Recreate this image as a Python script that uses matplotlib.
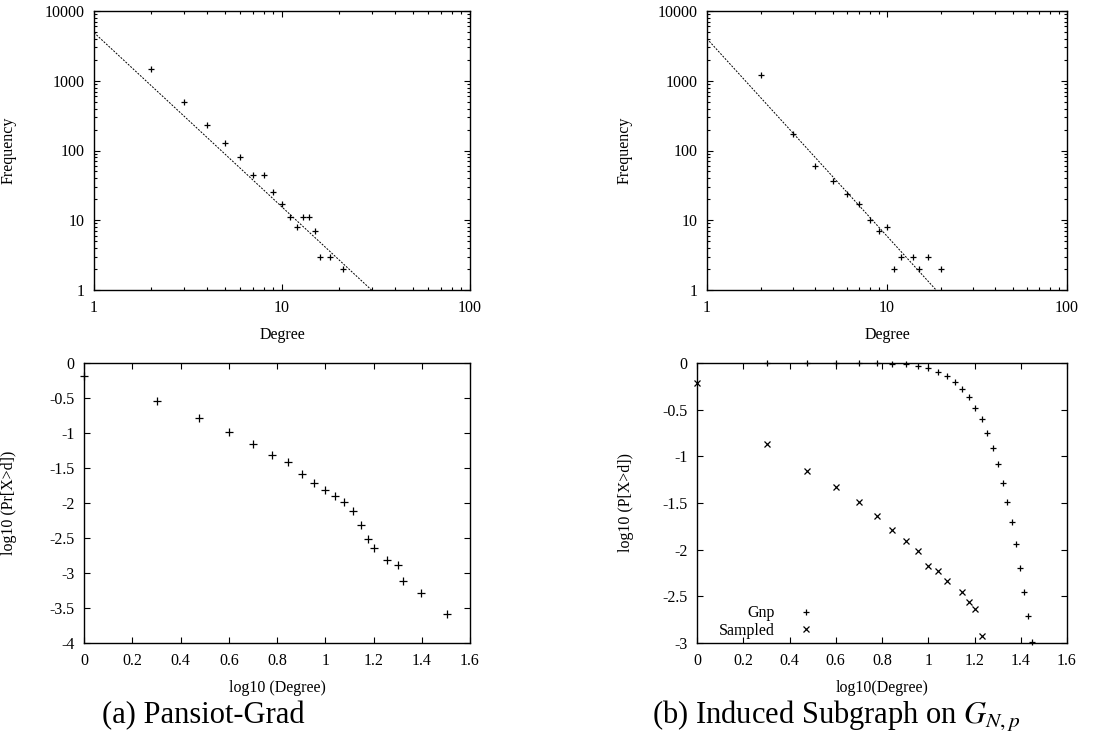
import numpy as np
import matplotlib
matplotlib.use("Agg")
import matplotlib.pyplot as plt
from matplotlib.ticker import FixedLocator, FuncFormatter, LogLocator, NullFormatter

plt.rcParams["font.family"] = ["Liberation Serif", "DejaVu Serif"]
plt.rcParams["mathtext.fontset"] = "stix"

# (a) Pansiot-Grad: degree histogram and power-law fit
pg_deg = [2, 3, 4, 5, 6, 7, 8, 9, 10, 11, 12, 13, 14, 15, 16, 18, 21]
pg_freq = [1450, 490, 233, 127, 82, 44, 44, 25, 17, 11, 8, 11, 11, 7, 3, 3, 2]
pg_fit = (4900, -2.5)  # a * d^b

# (b) induced subgraph on G(N,p): degree histogram and fit
ig_deg = [2, 3, 4, 5, 6, 7, 8, 9, 10, 11, 12, 14, 15, 17, 20]
ig_freq = [1200, 171, 59, 37, 24, 17, 10, 7, 8, 2, 3, 3, 2, 3, 2]
ig_fit = (4000, -2.83)

# complementary CDFs, log10 scale
pg_ccdf_deg = [1, 2, 3, 4, 5, 6, 7, 8, 9, 10, 11, 12, 13, 14, 15, 16, 18, 20, 21, 25, 32]
pg_ccdf = [-0.18, -0.54, -0.79, -0.99, -1.16, -1.31, -1.42, -1.59, -1.71, -1.81, -1.90,
           -1.98, -2.11, -2.31, -2.51, -2.64, -2.81, -2.89, -3.11, -3.29, -3.59]

gnp_deg = [2, 3, 4, 5, 6, 7, 8, 9, 10, 11, 12, 13, 14, 15, 16, 17, 18, 19, 20, 21, 22,
           23, 24, 25, 26, 27, 28]
gnp_ccdf = [0.0, 0.0, 0.0, 0.0, 0.0, -0.007, -0.014, -0.03, -0.054, -0.093, -0.139, -0.2,
            -0.275, -0.368, -0.479, -0.604, -0.746, -0.907, -1.086, -1.282, -1.489, -1.70,
            -1.939, -2.193, -2.454, -2.711, -2.99]

smp_deg = [1, 2, 3, 4, 5, 6, 7, 8, 9, 10, 11, 12, 14, 15, 16, 17]
smp_ccdf = [-0.211, -0.864, -1.154, -1.329, -1.493, -1.643, -1.789, -1.904, -2.011, -2.179,
            -2.232, -2.332, -2.454, -2.561, -2.632, -2.929]

W, H = 1107, 740
fig = plt.figure(figsize=(W / 100, H / 100), dpi=100)


def px_axes(l, t, r, b):
    return fig.add_axes([l / W, 1 - b / H, (r - l) / W, (b - t) / H])


FS = 11.5


def style(ax):
    ax.tick_params(which="both", direction="in", top=True, right=True,
                   labelsize=FS, width=0.8, pad=7)
    ax.tick_params(which="major", length=4)
    ax.tick_params(which="minor", length=2.2)
    for s in ax.spines.values():
        s.set_linewidth(1.0)


def place_ylabel(ax, x_px):
    # y label at a fixed pixel column, vertically centred on the axes
    pos = ax.get_position()
    ax.yaxis.set_label_coords(x_px / W, pos.y0 + pos.height / 2,
                              transform=fig.transFigure)


def hist_panel(ax, deg, freq, fit, ylab_x):
    ax.set_xscale("log")
    ax.set_yscale("log")
    ax.set_xlim(1, 100)
    ax.set_ylim(1, 10000)
    d = np.array(deg, dtype=float)
    ax.plot(d, freq, "+", color="black", ms=5, mew=0.9, clip_on=False)
    xs = np.logspace(0, 2, 200)
    ax.plot(xs, fit[0] * xs ** fit[1], color="black", lw=0.7, ls=(0, (2, 1.4)))
    fmt = FuncFormatter(lambda v, p: f"{v:g}")
    ax.xaxis.set_major_formatter(fmt)
    ax.yaxis.set_major_formatter(fmt)
    ax.xaxis.set_minor_formatter(NullFormatter())
    ax.yaxis.set_minor_formatter(NullFormatter())
    ax.xaxis.set_minor_locator(LogLocator(subs=np.arange(2, 10)))
    ax.yaxis.set_minor_locator(LogLocator(subs=np.arange(2, 10)))
    ax.set_xlabel("Degree", fontsize=FS, labelpad=8)
    ax.set_ylabel("Frequency", fontsize=FS)
    style(ax)
    place_ylabel(ax, ylab_x)


# top row
ax1 = px_axes(94, 11, 470, 290)
hist_panel(ax1, pg_deg, pg_freq, pg_fit, 17)
ax2 = px_axes(707, 11, 1067, 290)
hist_panel(ax2, ig_deg, ig_freq, ig_fit, 633)

# bottom left: Pansiot-Grad CCDF
ax3 = px_axes(84, 363, 470, 643)
ax3.plot(np.log10(pg_ccdf_deg), pg_ccdf, "+", color="black", ms=6, mew=0.9, clip_on=False)
ax3.set_xlim(0, 1.6)
ax3.set_ylim(-4, 0)
ax3.xaxis.set_major_locator(FixedLocator(np.arange(0, 1.61, 0.2)))
ax3.yaxis.set_major_locator(FixedLocator(np.arange(-4, 0.01, 0.5)))
ax3.xaxis.set_major_formatter(FuncFormatter(lambda v, p: f"{v:g}"))
ax3.yaxis.set_major_formatter(FuncFormatter(lambda v, p: f"{v:g}"))
ax3.set_xlabel("log10 (Degree)", fontsize=FS, labelpad=8)
ax3.set_ylabel("log10 (Pr[X>d])", fontsize=FS)
style(ax3)
place_ylabel(ax3, 17)

# bottom right: G(N,p) vs sampled CCDF
ax4 = px_axes(697, 363, 1067, 643)
ax4.plot(np.log10(gnp_deg), gnp_ccdf, "+", color="black", ms=5, mew=0.9,
         clip_on=False, label="Gnp")
ax4.plot(np.log10(smp_deg), smp_ccdf, "x", color="black", ms=4, mew=0.9,
         clip_on=False, label="Sampled")
ax4.set_xlim(0, 1.6)
ax4.set_ylim(-3, 0)
ax4.xaxis.set_major_locator(FixedLocator(np.arange(0, 1.61, 0.2)))
ax4.yaxis.set_major_locator(FixedLocator(np.arange(-3, 0.01, 0.5)))
ax4.xaxis.set_major_formatter(FuncFormatter(lambda v, p: f"{v:g}"))
ax4.yaxis.set_major_formatter(FuncFormatter(lambda v, p: f"{v:g}"))
ax4.set_xlabel("log10(Degree)", fontsize=FS, labelpad=8)
ax4.set_ylabel("log10 (P[X>d])", fontsize=FS)
style(ax4)
place_ylabel(ax4, 634)
ax4.legend(loc="lower left", bbox_to_anchor=(0.028, -0.025), frameon=False,
           markerfirst=False, fontsize=FS, handlelength=2.0, handletextpad=1.0,
           labelspacing=0.1, borderpad=0.2)

# sub-figure captions
fig.text(203 / W, 1 - 716 / H, "(a) Pansiot-Grad", fontsize=22, ha="center", va="center")
fig.text(836 / W, 1 - 716 / H, r"(b) Induced Subgraph on $G_{N,p}$", fontsize=22,
         ha="center", va="center")

fig.savefig("out.png", dpi=100)
